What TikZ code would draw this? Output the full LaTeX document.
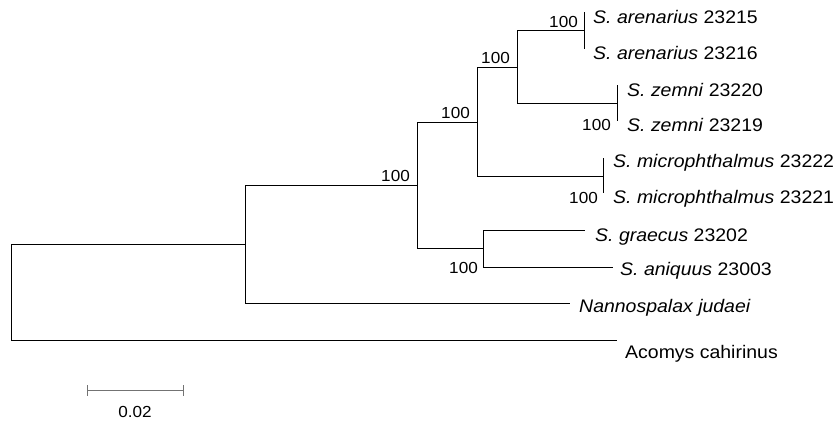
\documentclass[tikz,border=0pt]{standalone}
\usepackage{fontspec}
\setmainfont{Liberation Sans}[FakeStretch=1.07]
\begin{document}
\begin{tikzpicture}[x=1pt,y=-1pt,
  branch/.style={draw=black,line width=0.9pt},
  taxon/.style={anchor=base west,inner sep=0pt,font=\fontsize{18.2}{20}\selectfont},
  boot/.style={anchor=base east,inner sep=0pt,font=\fontsize{16}{18}\selectfont},
  scalebar/.style={draw=black!55,line width=1pt}]
\useasboundingbox (0,0) rectangle (836,421);

% internal nodes (x = depth, y = midpoint of children)
\coordinate (R)  at (11,292);
\coordinate (S)  at (245,244);
\coordinate (Z)  at (417,185);
\coordinate (Y)  at (477,122);
\coordinate (X)  at (517,67);
\coordinate (Ar) at (584,30);
\coordinate (Ze) at (617,103);
\coordinate (Mi) at (603,176);
\coordinate (W)  at (483,248);

% tips
\coordinate (ar1) at (584,12);
\coordinate (ar2) at (584,49);
\coordinate (ze1) at (617,85);
\coordinate (ze2) at (617,121);
\coordinate (mi1) at (603,158);
\coordinate (mi2) at (603,193);
\coordinate (gr)  at (585,230);
\coordinate (an)  at (613,267);
\coordinate (na)  at (570,303);
\coordinate (ac)  at (617,340);

% branches
\draw[branch] (R) |- (S);
\draw[branch] (R) |- (ac);
\draw[branch] (S) |- (Z);
\draw[branch] (S) |- (na);
\draw[branch] (Z) |- (Y);
\draw[branch] (Z) |- (W);
\draw[branch] (Y) |- (X);
\draw[branch] (Y) |- (Mi);
\draw[branch] (X) |- (Ar);
\draw[branch] (X) |- (Ze);
\draw[branch] (W) |- (gr);
\draw[branch] (W) |- (an);
\draw[branch] (ar1) -- (ar2);
\draw[branch] (ze1) -- (ze2);
\draw[branch] (mi1) -- (mi2);

% taxon labels
\node[taxon] (tar1) at (593,23)  {\textit{S. arenarius} 23215};
\node[taxon] (tar2) at (593,59)  {\textit{S. arenarius} 23216};
\node[taxon] (tze1) at (627,96)  {\textit{S. zemni} 23220};
\node[taxon] (tze2) at (627,131) {\textit{S. zemni} 23219};
\node[taxon] (tmi1) at (613,167) {\textit{S. microphthalmus} 23222};
\node[taxon] (tmi2) at (613,203) {\textit{S. microphthalmus} 23221};
\node[taxon] (tgr)  at (595,241) {\textit{S. graecus} 23202};
\node[taxon] (tan)  at (620,275) {\textit{S. aniquus} 23003};
\node[taxon] (tna)  at (579,312) {\textit{Nannospalax judaei}};
\node[taxon] (tac)  at (625,358) {Acomys cahirinus};

% bootstrap values
\node[boot] (bAr) at (578,27)  {100};
\node[boot] (bX)  at (510,63)  {100};
\node[boot] (bZe) at (611,130) {100};
\node[boot] (bY)  at (470,118) {100};
\node[boot] (bZ)  at (410,181) {100};
\node[boot] (bMi) at (598,203) {100};
\node[boot] (bW)  at (478,273) {100};

% scale bar
\coordinate (sb1) at (87,390);
\coordinate (sb2) at (183,390);
\draw[scalebar] (sb1) -- (sb2);
\draw[scalebar] ([yshift=-5.5pt]sb1) -- ([yshift=5.5pt]sb1);
\draw[scalebar] ([yshift=-5.5pt]sb2) -- ([yshift=5.5pt]sb2);
\node[anchor=base,inner sep=0pt,font=\fontsize{16}{18}\selectfont] (sbl) at (135,417) {0.02};
\end{tikzpicture}
\end{document}
